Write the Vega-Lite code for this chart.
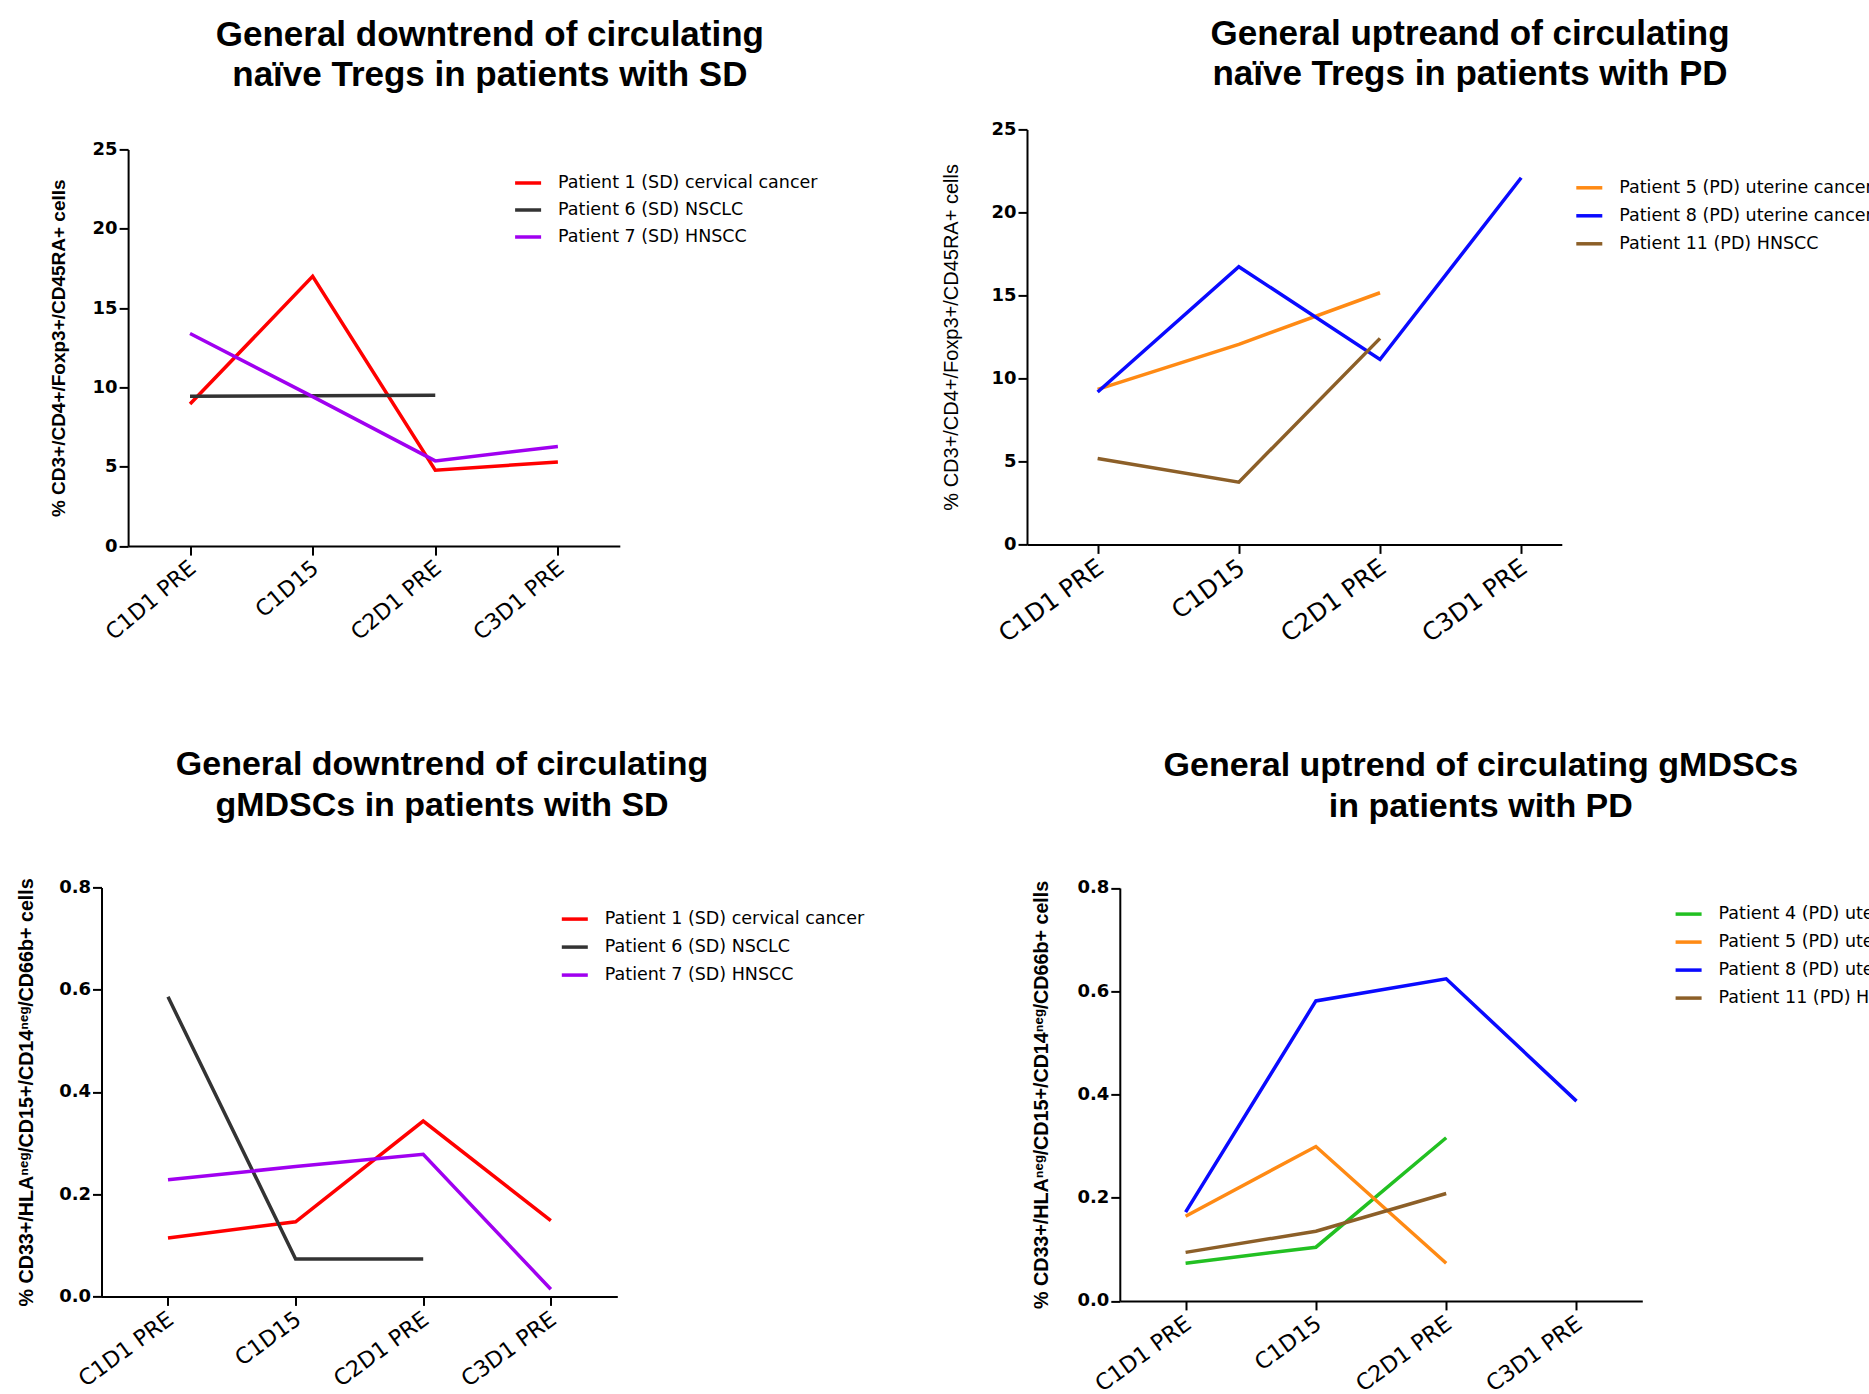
{
  "$schema": "https://vega.github.io/schema/vega-lite/v6.json",
  "background": "white",
  "padding": {"left": 16.5, "top": 16.4, "right": 0, "bottom": 0},
  "columns": 2,
  "spacing": {"row": 341, "column": 307.5},
  "bounds": "flush",
  "align": "none",
  "resolve": {"scale": {"color": "independent", "x": "independent", "y": "independent"}, "legend": {"color": "independent"}},
  "config": {
    "view": {"stroke": null},
    "axis": {"grid": false, "domainColor": "#000", "domainWidth": 2, "tickColor": "#000", "tickWidth": 2, "tickSize": 9, "labelColor": "#000", "titleColor": "#000", "labelFont": "DejaVu Sans", "titleFont": "Liberation Sans", "titleFontWeight": "bold", "titleFontSize": 19},
    "axisY": {"labelFontWeight": "bold", "labelFontSize": 18, "labelPadding": 2},
    "axisX": {"labelAngle": -40, "labelFontSize": 22, "labelFontWeight": "normal", "labelPadding": 2, "labelOffset": -4, "title": null},
    "legend": {"labelFont": "DejaVu Sans", "labelFontSize": 17.5, "labelColor": "#000", "labelLimit": 0, "symbolType": "stroke", "symbolSize": 676, "symbolStrokeWidth": 3.5, "labelOffset": 15, "rowPadding": 4, "padding": 0, "orient": "none", "title": null},
    "title": {"font": "Liberation Sans", "fontWeight": "bold", "color": "#000", "anchor": "middle", "frame": "group"}
  },
  "datasets": {
    "sd_treg": [
      {"patient": "Patient 1 (SD) cervical cancer", "visit": "C1D1 PRE", "value": 8.95},
      {"patient": "Patient 1 (SD) cervical cancer", "visit": "C1D15", "value": 17.0},
      {"patient": "Patient 1 (SD) cervical cancer", "visit": "C2D1 PRE", "value": 4.78},
      {"patient": "Patient 1 (SD) cervical cancer", "visit": "C3D1 PRE", "value": 5.3},
      {"patient": "Patient 6 (SD) NSCLC", "visit": "C1D1 PRE", "value": 9.45},
      {"patient": "Patient 6 (SD) NSCLC", "visit": "C1D15", "value": 9.47},
      {"patient": "Patient 6 (SD) NSCLC", "visit": "C2D1 PRE", "value": 9.5},
      {"patient": "Patient 7 (SD) HNSCC", "visit": "C1D1 PRE", "value": 13.4},
      {"patient": "Patient 7 (SD) HNSCC", "visit": "C1D15", "value": 9.42},
      {"patient": "Patient 7 (SD) HNSCC", "visit": "C2D1 PRE", "value": 5.37},
      {"patient": "Patient 7 (SD) HNSCC", "visit": "C3D1 PRE", "value": 6.28}
    ],
    "pd_treg": [
      {"patient": "Patient 5 (PD) uterine cancer", "visit": "C1D1 PRE", "value": 9.34},
      {"patient": "Patient 5 (PD) uterine cancer", "visit": "C1D15", "value": 12.05},
      {"patient": "Patient 5 (PD) uterine cancer", "visit": "C2D1 PRE", "value": 15.16},
      {"patient": "Patient 8 (PD) uterine cancer", "visit": "C1D1 PRE", "value": 9.18},
      {"patient": "Patient 8 (PD) uterine cancer", "visit": "C1D15", "value": 16.73},
      {"patient": "Patient 8 (PD) uterine cancer", "visit": "C2D1 PRE", "value": 11.14},
      {"patient": "Patient 8 (PD) uterine cancer", "visit": "C3D1 PRE", "value": 22.09},
      {"patient": "Patient 11 (PD) HNSCC", "visit": "C1D1 PRE", "value": 5.18},
      {"patient": "Patient 11 (PD) HNSCC", "visit": "C1D15", "value": 3.75},
      {"patient": "Patient 11 (PD) HNSCC", "visit": "C2D1 PRE", "value": 12.41}
    ],
    "sd_mdsc": [
      {"patient": "Patient 1 (SD) cervical cancer", "visit": "C1D1 PRE", "value": 0.114},
      {"patient": "Patient 1 (SD) cervical cancer", "visit": "C1D15", "value": 0.146},
      {"patient": "Patient 1 (SD) cervical cancer", "visit": "C2D1 PRE", "value": 0.343},
      {"patient": "Patient 1 (SD) cervical cancer", "visit": "C3D1 PRE", "value": 0.148},
      {"patient": "Patient 6 (SD) NSCLC", "visit": "C1D1 PRE", "value": 0.586},
      {"patient": "Patient 6 (SD) NSCLC", "visit": "C1D15", "value": 0.073},
      {"patient": "Patient 6 (SD) NSCLC", "visit": "C2D1 PRE", "value": 0.073},
      {"patient": "Patient 7 (SD) HNSCC", "visit": "C1D1 PRE", "value": 0.228},
      {"patient": "Patient 7 (SD) HNSCC", "visit": "C1D15", "value": 0.254},
      {"patient": "Patient 7 (SD) HNSCC", "visit": "C2D1 PRE", "value": 0.278},
      {"patient": "Patient 7 (SD) HNSCC", "visit": "C3D1 PRE", "value": 0.014}
    ],
    "pd_mdsc": [
      {"patient": "Patient 4 (PD) uterine cancer", "visit": "C1D1 PRE", "value": 0.073},
      {"patient": "Patient 4 (PD) uterine cancer", "visit": "C1D15", "value": 0.104},
      {"patient": "Patient 4 (PD) uterine cancer", "visit": "C2D1 PRE", "value": 0.316},
      {"patient": "Patient 5 (PD) uterine cancer", "visit": "C1D1 PRE", "value": 0.164},
      {"patient": "Patient 5 (PD) uterine cancer", "visit": "C1D15", "value": 0.299},
      {"patient": "Patient 5 (PD) uterine cancer", "visit": "C2D1 PRE", "value": 0.073},
      {"patient": "Patient 8 (PD) uterine cancer", "visit": "C1D1 PRE", "value": 0.172},
      {"patient": "Patient 8 (PD) uterine cancer", "visit": "C1D15", "value": 0.581},
      {"patient": "Patient 8 (PD) uterine cancer", "visit": "C2D1 PRE", "value": 0.624},
      {"patient": "Patient 8 (PD) uterine cancer", "visit": "C3D1 PRE", "value": 0.387},
      {"patient": "Patient 11 (PD) HNSCC", "visit": "C1D1 PRE", "value": 0.094},
      {"patient": "Patient 11 (PD) HNSCC", "visit": "C1D15", "value": 0.135},
      {"patient": "Patient 11 (PD) HNSCC", "visit": "C2D1 PRE", "value": 0.208}
    ]
  },
  "concat": [
    {
      "width": 524.7,
      "height": 416.7,
      "title": {"text": ["General downtrend of circulating", "naïve Tregs in patients with SD"], "fontSize": 35, "lineHeight": 40, "dx": 126, "offset": 36.6},
      "data": {"name": "sd_treg"},
      "mark": {"type": "line", "strokeWidth": 3.5},
      "encoding": {
        "x": {"field": "visit", "type": "ordinal", "scale": {"domain": ["C1D1 PRE", "C1D15", "C2D1 PRE", "C3D1 PRE"], "range": [26.6, 518.3], "padding": 0.505, "align": 0.5}, "axis": {"title": null, "labelFontSize": 22, "labelAngle": -40}},
        "y": {"field": "value", "type": "quantitative", "scale": {"domain": [0, 25], "range": [416.7, 20], "nice": false}, "axis": {"values": [0, 5, 10, 15, 20, 25], "offset": -26.6, "title": "% CD3+/CD4+/Foxp3+/CD45RA+ cells", "titlePadding": 23.6}},
        "color": {"field": "patient", "type": "nominal", "scale": {"domain": ["Patient 1 (SD) cervical cancer", "Patient 6 (SD) NSCLC", "Patient 7 (SD) HNSCC"], "range": ["#ff0000", "#333333", "#a000f0"]}, "legend": {"orient": "none", "legendX": 411.6, "legendY": 38.6, "rowPadding": 3}}
      }
    },
    {
      "width": 534.8,
      "height": 415,
      "title": {"text": ["General uptreand of circulating", "naïve Tregs in patients with PD"], "fontSize": 35, "lineHeight": 40, "dx": 175.6, "offset": 28.6},
      "data": {"name": "pd_treg"},
      "mark": {"type": "line", "strokeWidth": 3.5},
      "encoding": {
        "x": {"field": "visit", "type": "ordinal", "scale": {"domain": ["C1D1 PRE", "C1D15", "C2D1 PRE", "C3D1 PRE"], "padding": 0.394, "align": 0.635}, "axis": {"title": null, "labelFontSize": 24.5, "labelAngle": -36}},
        "y": {"field": "value", "type": "quantitative", "scale": {"domain": [0, 25], "nice": false}, "axis": {"values": [0, 5, 10, 15, 20, 25], "title": "% CD3+/CD4+/Foxp3+/CD45RA+ cells", "titleFontWeight": "normal", "titleFontSize": 20, "titlePadding": 29.2}},
        "color": {"field": "patient", "type": "nominal", "scale": {"domain": ["Patient 5 (PD) uterine cancer", "Patient 8 (PD) uterine cancer", "Patient 11 (PD) HNSCC"], "range": ["#ff8a14", "#0a0aff", "#8c5f28"]}, "legend": {"orient": "none", "legendX": 547.3, "legendY": 43.4}}
      }
    },
    {
      "width": 617.5,
      "height": 409,
      "title": {"text": ["General downtrend of circulating", "gMDSCs in patients with SD"], "fontSize": 34, "lineHeight": 41, "dx": 31.8, "offset": 54.4},
      "data": {"name": "sd_mdsc"},
      "mark": {"type": "line", "strokeWidth": 3.5},
      "encoding": {
        "x": {"field": "visit", "type": "ordinal", "scale": {"domain": ["C1D1 PRE", "C1D15", "C2D1 PRE", "C3D1 PRE"], "range": [0, 515.8], "padding": 0.521, "align": 0.5}, "axis": {"title": null, "labelFontSize": 22.2, "labelAngle": -36}},
        "y": {"field": "value", "type": "quantitative", "scale": {"domain": [0, 0.8], "nice": false}, "axis": {"values": [0, 0.2, 0.4, 0.6, 0.8], "format": ".1f", "title": "% CD33+/HLAⁿᵉᵍ/CD15+/CD14ⁿᵉᵍ/CD66b+ cells", "titleFontSize": 19.7, "titlePadding": 22}},
        "color": {"field": "patient", "type": "nominal", "scale": {"domain": ["Patient 1 (SD) cervical cancer", "Patient 6 (SD) NSCLC", "Patient 7 (SD) HNSCC"], "range": ["#ff0000", "#333333", "#a000f0"]}, "legend": {"orient": "none", "legendX": 458.3, "legendY": 16.7}}
      }
    },
    {
      "width": 615.3,
      "height": 413.5,
      "title": {"text": ["General uptrend of circulating gMDSCs", "in patients with PD"], "fontSize": 34, "lineHeight": 41, "dx": 146.15, "offset": 54.9},
      "data": {"name": "pd_mdsc"},
      "mark": {"type": "line", "strokeWidth": 3.5},
      "encoding": {
        "x": {"field": "visit", "type": "ordinal", "scale": {"domain": ["C1D1 PRE", "C1D15", "C2D1 PRE", "C3D1 PRE"], "range": [92.8, 615.3], "padding": 0.505, "align": 0.5}, "axis": {"title": null, "labelFontSize": 22.4, "labelAngle": -36}},
        "y": {"field": "value", "type": "quantitative", "scale": {"domain": [0, 0.8], "range": [413.5, 0.5], "nice": false}, "axis": {"values": [0, 0.2, 0.4, 0.6, 0.8], "format": ".1f", "offset": -92.8, "title": "% CD33+/HLAⁿᵉᵍ/CD15+/CD14ⁿᵉᵍ/CD66b+ cells", "titleFontSize": 19.7, "titlePadding": 25.5}},
        "color": {"field": "patient", "type": "nominal", "scale": {"domain": ["Patient 4 (PD) uterine cancer", "Patient 5 (PD) uterine cancer", "Patient 8 (PD) uterine cancer", "Patient 11 (PD) HNSCC"], "range": ["#22c022", "#ff8a14", "#0a0aff", "#8c5f28"]}, "legend": {"orient": "none", "legendX": 646.6, "legendY": 11.7}}
      }
    }
  ]
}
